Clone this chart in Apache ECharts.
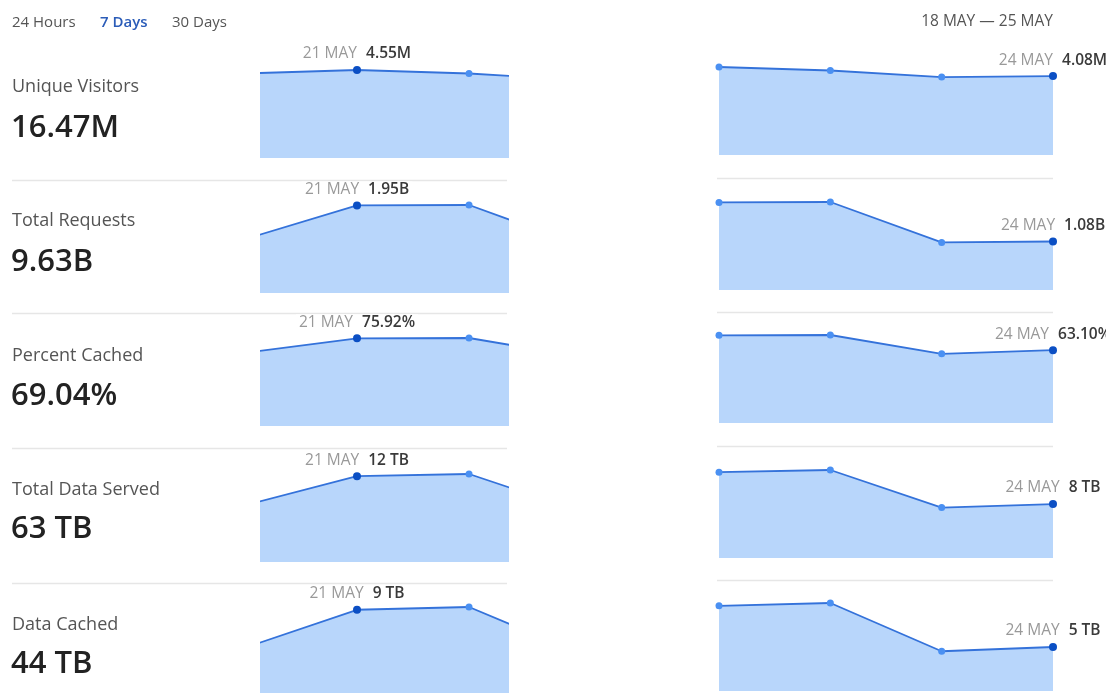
<!DOCTYPE html>
<html>
<head>
<meta charset="utf-8">
<script src="https://cdn.jsdelivr.net/npm/echarts@6/dist/echarts.min.js"></script>
<style>
    html, body {margin: 0; padding: 0; background: #fff;}
    #main {width: 1106px; height: 693px;}
</style>
</head>
<body>
<div id="main"></div>
<script>
//数据
var days = [20, 21, 22, 23, 24];
var dayNames = ['20 MAY', '21 MAY', '22 MAY', '23 MAY', '24 MAY'];
var tabs = ['24 Hours', '7 Days', '30 Days'];
var rangeText = '18 MAY \u2014 25 MAY';
var metricNames = ['Unique Visitors', 'Total Requests', 'Percent Cached', 'Total Data Served', 'Data Cached'];
var totals = ['16.47M', '9.63B', '69.04%', '63 TB', '44 TB'];
var visitors = [4.37, 4.55, 4.37, 4.03, 4.08];   // M
var requests = [1.20, 1.95, 1.96, 1.06, 1.08];   // B
var cached = [63.4, 75.92, 76.2, 59.9, 63.1];    // %
var served = [8.0, 12.1, 12.4, 7.1, 7.6];        // TB
var dataCached = [4.9, 9.0, 9.3, 4.2, 4.65];     // TB

var rows = [visitors, requests, cached, served, dataCached];
var fmts = [
    function (v) { return v.toFixed(2) + 'M'; },
    function (v) { return v.toFixed(2) + 'B'; },
    function (v) { return v.toFixed(2) + '%'; },
    function (v) { return Math.round(v) + ' TB'; },
    function (v) { return Math.round(v) + ' TB'; }
];

var FONT = '"Open Sans", "Noto Sans", sans-serif';
var midTop = [70, 205, 338, 474, 607];
var rightTop = [67, 202, 335, 470, 603];
var labelY = [87, 221, 356, 490, 625];
var bigY = [128, 262, 396, 529, 664];
var sepLeft = [180, 313, 448, 583];
var sepRight = [178, 312, 446, 580];

var chart = echarts.init(document.getElementById('main'));

var grids = [], xAxes = [], yAxes = [], series = [], graphics = [];

// fromDay: 只画该日期之后的点
function makeSeries(idx, vals, hiIndex, fmt, fromDay) {
    var data = [];
    vals.forEach(function (v, j) {
        if (days[j] < fromDay) return;
        var item = {value: [days[j], v]};
        if (j == hiIndex) {
            item.symbolSize = 8;
            item.itemStyle = {color: '#0b4fc4'};
            item.label = {
                show: true,
                position: 'top',
                distance: 4,
                backgroundColor: '#fff',
                padding: [0, 3],
                formatter: '{d|' + dayNames[j] + '}{v|' + fmt(v) + '}',
                rich: {
                    d: {color: '#999', fontSize: 15.5, fontFamily: FONT, padding: [0, 9, 0, 0]},
                    v: {color: '#3a3a3a', fontSize: 15.5, fontFamily: FONT, fontWeight: 600}
                }
            };
        }
        data.push(item);
    });
    return {
        type: 'line',
        xAxisIndex: idx,
        yAxisIndex: idx,
        clip: true,
        symbol: 'circle',
        symbolSize: 7,
        showAllSymbol: true,
        itemStyle: {color: '#4a90f2'},
        lineStyle: {color: '#3472da', width: 1.8},
        areaStyle: {color: '#b8d6fb', opacity: 1},
        emphasis: {disabled: true},
        silent: true,
        data: data
    };
}

rows.forEach(function (vals, i) {
    //中间窗口 (截取 20~22 MAY 一段)
    grids.push({left: 261, top: midTop[i], width: 246, height: 88});
    xAxes.push({type: 'value', gridIndex: grids.length - 1, min: 20.143, max: 22.339, show: false});
    yAxes.push({type: 'value', gridIndex: grids.length - 1, min: 0, max: 'dataMax', show: false});
    series.push(makeSeries(grids.length - 1, vals, 1, fmts[i], 0));

    //右侧窗口 21~24 MAY
    grids.push({left: 719, top: rightTop[i], width: 334, height: 88});
    xAxes.push({type: 'value', gridIndex: grids.length - 1, min: 21, max: 24, show: false});
    yAxes.push({type: 'value', gridIndex: grids.length - 1, min: 0, max: 'dataMax', show: false});
    var s = makeSeries(grids.length - 1, vals, 4, fmts[i], 21);
    s.clip = false;
    series.push(s);

    graphics.push({
        type: 'text', x: 12, y: labelY[i],
        style: {text: metricNames[i], fill: '#555', font: '18px ' + FONT, verticalAlign: 'middle'}
    });
    graphics.push({
        type: 'text', x: 11, y: bigY[i],
        style: {text: totals[i], fill: '#222', font: '600 31px ' + FONT, verticalAlign: 'middle'}
    });
});

//分隔线
sepLeft.forEach(function (y) {
    graphics.push({type: 'line', shape: {x1: 12, y1: y + 0.5, x2: 507, y2: y + 0.5}, style: {stroke: '#e6e6e6', lineWidth: 1.5}});
});
sepRight.forEach(function (y) {
    graphics.push({type: 'line', shape: {x1: 717, y1: y + 0.5, x2: 1053, y2: y + 0.5}, style: {stroke: '#e6e6e6', lineWidth: 1.5}});
});

//顶部标签
var tabX = [12, 100, 172];
tabs.forEach(function (t, k) {
    graphics.push({
        type: 'text', x: tabX[k], y: 23,
        style: {
            text: t,
            fill: k == 1 ? '#2b5cb8' : '#555',
            font: (k == 1 ? '600 ' : '') + '15px ' + FONT,
            verticalAlign: 'middle'
        }
    });
});
graphics.push({
    type: 'text', x: 1053, y: 22,
    style: {text: rangeText, fill: '#555', font: '15.5px ' + FONT, align: 'right', verticalAlign: 'middle'}
});

chart.setOption({
    animation: false,
    grid: grids,
    xAxis: xAxes,
    yAxis: yAxes,
    graphic: graphics,
    series: series
});
</script>
</body>
</html>
